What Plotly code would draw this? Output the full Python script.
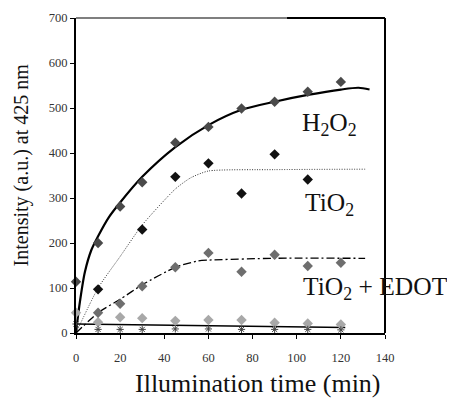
import plotly.graph_objects as go

# measured points
t_pts = [0, 10, 20, 30, 45, 60, 75, 90, 105, 120]
h2o2_pts = [114, 200, 281, 335, 423, 458, 499, 514, 536, 558]
tio2_t = [10, 30, 45, 60, 75, 90, 105]
tio2_pts = [97, 230, 347, 377, 310, 397, 341]
edot_t = [10, 20, 30, 45, 60, 75, 90, 105, 120]
edot_pts = [45, 65, 104, 146, 178, 136, 174, 149, 156]
light_pts = [45, 24, 35, 33, 27, 29, 29, 23, 21, 19]
star_pts = [20, 8, 8, 8, 9, 9, 8, 8, 8, 7]

# trend curves
h2o2_fit_t = [0, 1.5, 4, 7, 10, 15, 20, 30, 45, 60, 75, 90, 105, 120, 128, 133]
h2o2_fit_v = [0, 60, 135, 185, 215, 258, 290, 347, 413, 462, 496, 514, 529, 541, 545, 541]
tio2_fit_t = [0, 10, 20, 30, 45, 52, 60, 90, 131]
tio2_fit_v = [0, 100, 170, 240, 320, 345, 360, 363, 364]
edot_fit_t = [0, 10, 20, 30, 45, 55, 60, 90, 131]
edot_fit_v = [0, 45, 75, 107, 146, 160, 162, 166, 166]
base_fit_t = [0, 122]
base_fit_v = [20, 12]

x_ticks = [0, 20, 40, 60, 80, 100, 120, 140]
y_ticks = [0, 100, 200, 300, 400, 500, 600, 700]

FONT = "Liberation Serif"

fig = go.Figure()

fig.add_trace(go.Scatter(x=h2o2_fit_t, y=h2o2_fit_v, mode="lines",
                         line=dict(color="black", width=2.2, shape="spline", smoothing=0.8)))
fig.add_trace(go.Scatter(x=tio2_fit_t, y=tio2_fit_v, mode="lines",
                         line=dict(color="#333333", width=1, dash="1px,1.5px", shape="spline", smoothing=0.6)))
fig.add_trace(go.Scatter(x=edot_fit_t, y=edot_fit_v, mode="lines",
                         line=dict(color="black", width=1.3, dash="8px,3px,2px,3px", shape="spline", smoothing=0.6)))
fig.add_trace(go.Scatter(x=base_fit_t, y=base_fit_v, mode="lines",
                         line=dict(color="black", width=1.5)))

fig.add_trace(go.Scatter(x=t_pts, y=light_pts, mode="markers", cliponaxis=False,
                         marker=dict(symbol="diamond", size=8, color="#a8a8a8")))
fig.add_trace(go.Scatter(x=t_pts, y=star_pts, mode="markers", cliponaxis=False,
                         marker=dict(symbol="asterisk-open", size=6, color="#444444",
                                     line=dict(color="#444444", width=1))))
fig.add_trace(go.Scatter(x=edot_t, y=edot_pts, mode="markers", cliponaxis=False,
                         marker=dict(symbol="diamond", size=8, color="#6e6e6e")))
fig.add_trace(go.Scatter(x=t_pts, y=h2o2_pts, mode="markers", cliponaxis=False,
                         marker=dict(symbol="diamond", size=8, color="#4a4a4a")))
fig.add_trace(go.Scatter(x=tio2_t, y=tio2_pts, mode="markers", cliponaxis=False,
                         marker=dict(symbol="diamond", size=8, color="#111111")))

fig.update_layout(
    template="none",
    width=447, height=390,
    margin=dict(l=68, r=70, t=10, b=65),
    paper_bgcolor="white", plot_bgcolor="white",
    showlegend=False,
    font=dict(family=FONT, color="black"),
    xaxis=dict(range=[0, 140], tickvals=x_ticks, ticks="outside", ticklen=4, tickwidth=1,
               tickcolor="black", showgrid=False, zeroline=False, showline=True,
               linecolor="black", linewidth=1.5, automargin=False, ticklabelstandoff=8,
               tickfont=dict(size=12.5, family=FONT, color="#333333")),
    yaxis=dict(range=[0, 700], tickvals=y_ticks, ticks="outside", ticklen=4, tickwidth=1,
               tickcolor="black", showgrid=False, zeroline=False, showline=True,
               linecolor="black", linewidth=2, automargin=False,
               tickfont=dict(size=12.5, family=FONT, color="#333333")),
)

# box top & right
fig.add_shape(type="line", xref="paper", yref="paper", x0=0, x1=1, y0=1, y1=1,
              line=dict(color="black", width=1.2))
fig.add_shape(type="line", xref="paper", yref="paper", x0=0.683, x1=1, y0=1, y1=1,
              line=dict(color="black", width=2))
fig.add_shape(type="line", xref="paper", yref="paper", x0=1, x1=1, y0=0, y1=1,
              line=dict(color="black", width=2))

fig.add_annotation(text="Illumination time (min)", xref="paper", yref="paper",
                   x=0.589, y=-0.159, xanchor="center", yanchor="middle", showarrow=False,
                   font=dict(size=26, family=FONT, color="#111111"))
fig.add_annotation(text="Intensity (a.u.) at 425 nm", xref="paper", yref="paper",
                   x=-0.175, y=0.535, xanchor="center", yanchor="middle", showarrow=False,
                   textangle=-90, font=dict(size=20, family=FONT, color="#111111"))

fig.add_annotation(text="H<sub>2</sub>O<sub>2</sub>", x=115, y=464, showarrow=False,
                   xanchor="center", yanchor="middle", font=dict(size=25.5, family=FONT, color="#111111"))
fig.add_annotation(text="TiO<sub>2</sub>", x=115, y=287, showarrow=False,
                   xanchor="center", yanchor="middle", font=dict(size=25.5, family=FONT, color="#111111"))
fig.add_annotation(text="TiO<sub>2</sub> + EDOT", x=135.7, y=100, showarrow=False,
                   xanchor="center", yanchor="middle", font=dict(size=25.5, family=FONT, color="#111111"))

fig.write_html("out.html")
